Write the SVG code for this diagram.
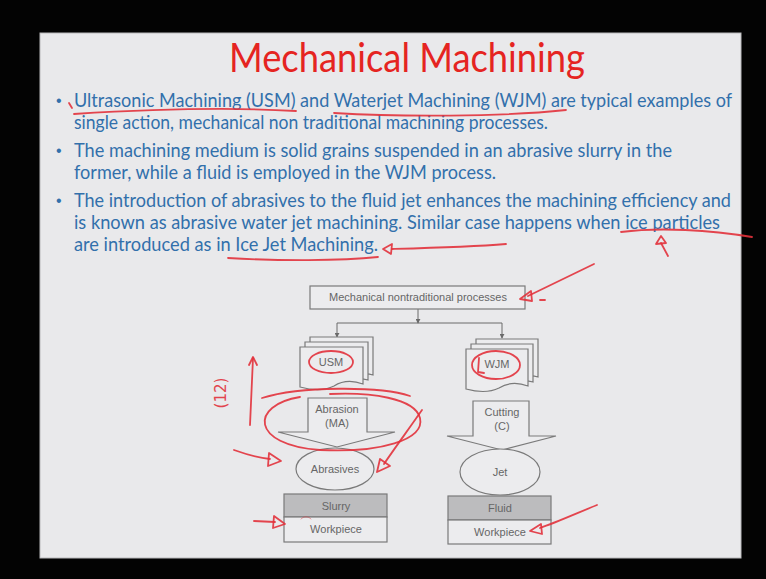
<svg xmlns="http://www.w3.org/2000/svg" width="766" height="579" viewBox="0 0 766 579">
  <defs>
    <style>
      .title { font-family: Lato, "Open Sans", "Liberation Sans", sans-serif; font-size: 41px; fill: #e52421; }
      .body { font-family: Lato, "Open Sans", "Liberation Sans", sans-serif; font-size: 19px; fill: #3270ab; }
      .bullet { font-family: "Liberation Sans", sans-serif; font-size: 16px; fill: #3270ab; }
      .lbl { font-family: "Liberation Sans", Arial, sans-serif; font-size: 11px; fill: #666; text-anchor: middle; }
      .shape { fill: #ececee; stroke: #7a7a7a; stroke-width: 1.2; }
      .band { fill: #bcbcbe; stroke: #7a7a7a; stroke-width: 1.2; }
      .wire { fill: none; stroke: #6a6a6a; stroke-width: 1; }
      .ink { fill: none; stroke: #e2323c; stroke-width: 1.8; stroke-linecap: round; stroke-linejoin: round; opacity: 0.9; }
      .inkhead { fill: none; stroke: #e2323c; stroke-width: 1.8; stroke-linejoin: round; opacity: 0.9; }
      .inkfaint { fill: none; stroke: #e2323c; stroke-width: 1; stroke-linecap: round; opacity: 0.45; }
      .inktext { font-family: "DejaVu Sans", sans-serif; font-size: 15px; fill: #e2323c; opacity: 0.9; }
    </style>
    <marker id="tip" viewBox="0 0 6 6" refX="5" refY="3" markerWidth="5" markerHeight="5" orient="auto">
      <path d="M0,0 L6,3 L0,6 Z" fill="#6a6a6a"/>
    </marker>
  </defs>

  <!-- screen surround -->
  <rect x="0" y="0" width="766" height="579" fill="#030303"/>
  <!-- slide -->
  <rect x="40" y="33" width="701" height="525" fill="#e9e9eb" stroke="#b9b9bb" stroke-width="1"/>

  <!-- heading and bullet text -->
  <g id="title">
    <text class="title" x="229" y="72" textLength="356" lengthAdjust="spacingAndGlyphs">Mechanical Machining</text>
  </g>
  <g id="bullets">
    <text class="bullet" x="56" y="106">•</text>
    <text class="bullet" x="56" y="156">•</text>
    <text class="bullet" x="56" y="206">•</text>
    <text class="body" x="74" y="107" textLength="658" lengthAdjust="spacingAndGlyphs">Ultrasonic Machining (USM) and Waterjet Machining (WJM) are typical examples of</text>
    <text class="body" x="74" y="129" textLength="474" lengthAdjust="spacingAndGlyphs">single action, mechanical non traditional machining processes.</text>
    <text class="body" x="74" y="157" textLength="598" lengthAdjust="spacingAndGlyphs">The machining medium is solid grains suspended in an abrasive slurry in the</text>
    <text class="body" x="74" y="179" textLength="422" lengthAdjust="spacingAndGlyphs">former, while a fluid is employed in the WJM process.</text>
    <text class="body" x="74" y="207" textLength="657" lengthAdjust="spacingAndGlyphs">The introduction of abrasives to the fluid jet enhances the machining efficiency and</text>
    <text class="body" x="74" y="229" textLength="646" lengthAdjust="spacingAndGlyphs">is known as abrasive water jet machining. Similar case happens when ice particles</text>
    <text class="body" x="74" y="251" textLength="304" lengthAdjust="spacingAndGlyphs">are introduced as in Ice Jet Machining.</text>
  </g>

  <!-- connectors -->
  <g id="connectors">
    <path class="wire" d="M418,309 V323" marker-end="url(#tip)"/>
    <path class="wire" d="M337,323 H502"/>
    <path class="wire" d="M337,323 V337" marker-end="url(#tip)"/>
    <path class="wire" d="M502,323 V338" marker-end="url(#tip)"/>
  </g>

  <g id="root">
    <rect class="shape" x="310" y="286" width="215" height="23"/>
    <text class="lbl" x="418" y="301">Mechanical nontraditional processes</text>
  </g>

  <g id="usm">
    <path class="shape" d="M310,337 H373 V375 C366,373 362,374 360,376 L310,376 Z"/>
    <path class="shape" d="M305,342 H368 V380 C360,378 355,379 352,381 L305,381 Z"/>
    <path class="shape" d="M300,347 H363 V384 C352,380 342,381 334,386 C324,391 311,390 300,387 Z"/>
    <text class="lbl" x="331" y="366">USM</text>
  </g>

  <g id="wjm">
    <path class="shape" d="M476,339 H538 V377 C531,375 527,376 525,378 L476,378 Z"/>
    <path class="shape" d="M471,344 H533 V382 C525,380 520,381 517,383 L471,383 Z"/>
    <path class="shape" d="M466,349 H528 V386 C517,382 507,383 499,388 C489,393 477,392 466,389 Z"/>
    <text class="lbl" x="497" y="368">WJM</text>
  </g>

  <g id="abrasion">
    <path class="shape" d="M308,398 H367 V432 H395 L337,447 L278,432 H308 Z"/>
    <text class="lbl" x="337" y="413">Abrasion</text>
    <text class="lbl" x="337" y="427">(MA)</text>
  </g>

  <g id="cutting">
    <path class="shape" d="M473,401 H529 V436 H556 L502,450 L447,436 H473 Z"/>
    <text class="lbl" x="502" y="416">Cutting</text>
    <text class="lbl" x="502" y="430">(C)</text>
  </g>

  <g id="abrasives">
    <ellipse class="shape" cx="335" cy="469" rx="39" ry="21"/>
    <text class="lbl" x="335" y="473">Abrasives</text>
  </g>

  <g id="jet">
    <ellipse class="shape" cx="500" cy="472" rx="40" ry="23"/>
    <text class="lbl" x="500" y="476">Jet</text>
  </g>

  <g id="usm-stack">
    <rect class="band" x="284" y="494" width="103" height="23"/>
    <text class="lbl" x="336" y="510">Slurry</text>
    <rect class="shape" x="284" y="517" width="103" height="25"/>
    <text class="lbl" x="336" y="533">Workpiece</text>
  </g>

  <g id="wjm-stack">
    <rect class="band" x="448" y="496" width="103" height="24"/>
    <text class="lbl" x="500" y="512">Fluid</text>
    <rect class="shape" x="448" y="520" width="103" height="24"/>
    <text class="lbl" x="500" y="536">Workpiece</text>
  </g>

  <!-- hand-drawn pen marks -->
  <g id="pen-marks">
    <path class="ink" d="M69,103 L72,108"/>
    <path class="ink" d="M74,114 C140,110 230,107 296,111"/>
    <path class="ink" d="M334,113 C400,117 500,117 566,110"/>
    <path class="ink" d="M228,258 C280,261 340,261 378,257"/>
    <path class="inkhead" d="M383,249 L392,244 L391,254 Z"/>
    <path class="ink" d="M392,249 C430,248 470,247 506,244"/>
    <path class="ink" d="M621,232 C660,227 710,230 752,237"/>
    <path class="inkhead" d="M661,236 L656,244 L666,243 Z"/>
    <path class="ink" d="M661,243 L668,256"/>
    <path class="ink" d="M594,264 L528,296"/>
    <path class="inkhead" d="M520,299 L531,291 L532,301 Z"/>
    <path class="ink" d="M540,300 L545,300"/>
    <ellipse class="ink" cx="331" cy="362" rx="22" ry="11"/>
    <ellipse class="ink" cx="496" cy="365" rx="24" ry="14"/>
    <path class="ink" d="M479,358 L478,372 L484,373"/>
    <path class="ink" d="M262,398 C300,386 380,386 410,396"/>
    <path class="ink" d="M300,397 C250,405 250,445 320,450 C380,453 425,440 420,418 C415,398 370,392 330,394"/>
    <path class="ink" d="M250,425 L253,358"/>
    <path class="ink" d="M249,365 L253,357 L257,365"/>
    <text class="inktext" transform="translate(226,393) rotate(-90)" text-anchor="middle">(12)</text>
    <path class="ink" d="M234,450 C248,455 260,458 270,459"/>
    <path class="inkhead" d="M281,461 L269,453 L268,466 Z"/>
    <path class="ink" d="M422,410 C408,430 392,452 384,464"/>
    <path class="inkhead" d="M377,472 L380,459 L390,466 Z"/>
    <path class="ink" d="M254,521 L275,522"/>
    <path class="inkhead" d="M285,524 L274,516 L273,528 Z"/>
    <path class="inkfaint" d="M301,519 C304,516 308,516 311,519"/>
    <path class="ink" d="M597,505 C575,514 555,523 540,528"/>
    <path class="inkhead" d="M530,531 L541,524 L542,534 Z"/>
  </g>
</svg>
